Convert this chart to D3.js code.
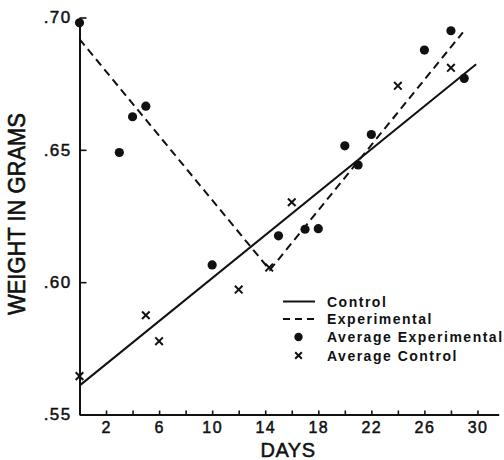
<!DOCTYPE html>
<html>
<head>
<meta charset="utf-8">
<script src="https://cdn.jsdelivr.net/npm/d3@7"></script>
<style>
  body { margin: 0; background: #fff; }
  svg { display: block; background: #fff; }
  text { font-family: "Liberation Sans", Arial, sans-serif; fill: #111; }
</style>
</head>
<body>
<script>
const WIDTH = 504;
const HEIGHT = 460;
const INK = "#111";

// data
const expDays = [0, 3, 4, 5, 10, 15, 17, 18, 20, 21, 22, 26, 28, 29];
const expWeights = [0.698, 0.649, 0.6625, 0.6665, 0.6065, 0.6175, 0.62, 0.6202, 0.6515, 0.6443, 0.6558, 0.6877, 0.695, 0.677];
const ctrlDays = [0, 5, 6, 12, 14.3, 16, 24, 28];
const ctrlWeights = [0.5645, 0.5875, 0.5777, 0.5972, 0.6055, 0.6302, 0.6742, 0.681];

// fitted lines
const ctrlLineDays = [0, 29.9];
const ctrlLineWeights = [0.5609, 0.6823];
const expLineDays = [0, 14.35, 28.9];
const expLineWeights = [0.6918, 0.6046, 0.6944];

const xTicks = d3.range(2, 31, 2);
const xLabels = [2, 6, 10, 14, 18, 22, 26, 30];
const yTicks = [0.55, 0.60, 0.65, 0.70];
const legendLabels = ["Control", "Experimental", "Average Experimental", "Average Control"];

const svg = d3.select('body').append('svg')
  .attr("width", WIDTH)
  .attr("height", HEIGHT);

const xScale = d3.scaleLinear().domain([0, 31.6]).range([79.5, 498.7]);
const yScale = d3.scaleLinear().domain([0.55, 0.70]).range([414.5, 17.5]);

//axes
const setAxis = () => {
  const xAxis = d3.axisBottom(xScale)
    .tickValues(xTicks)
    .tickSizeInner(-4)
    .tickSizeOuter(0)
    .tickPadding(7)
    .tickFormat(d => xLabels.includes(d) ? d : "");

  const yAxis = d3.axisLeft(yScale)
    .tickValues(yTicks)
    .tickSizeInner(-7)
    .tickSizeOuter(0)
    .tickPadding(8)
    .tickFormat(d => d3.format(".2f")(d).replace(/^0/, ""));

  const gx = svg.append("g")
    .attr("transform", "translate(0," + yScale(0.55) + ")")
    .call(xAxis);

  const gy = svg.append("g")
    .attr("transform", "translate(" + xScale(0) + ",0)")
    .call(yAxis);

  [gx, gy].forEach(g => {
    g.select(".domain").attr("stroke", INK).attr("stroke-width", 2);
    g.selectAll(".tick line").attr("stroke", INK).attr("stroke-width", 1.6);
    g.selectAll(".tick text")
      .attr("fill", INK)
      .attr("stroke", INK)
      .attr("stroke-width", 0.5)
      .style("font-size", "16px")
      .style("letter-spacing", "1.4px");
  });
  gy.selectAll(".tick text").attr("x", -8).style("font-size", "17px");
};

//the fitted lines
const renderLines = () => {
  const line = d3.line()
    .x(d => xScale(d[0]))
    .y(d => yScale(d[1]));

  svg.append("path")
    .datum(ctrlLineDays.map((d, i) => [d, ctrlLineWeights[i]]))
    .attr("d", line)
    .attr("fill", "none")
    .attr("stroke", INK)
    .attr("stroke-width", 2);

  svg.append("path")
    .datum(expLineDays.map((d, i) => [d, expLineWeights[i]]))
    .attr("d", line)
    .attr("fill", "none")
    .attr("stroke", INK)
    .attr("stroke-width", 2)
    .attr("stroke-dasharray", "8,5");
};

const crossPath = (cx, cy, s) =>
  "M" + (cx - s) + "," + (cy - s) + "L" + (cx + s) + "," + (cy + s) +
  "M" + (cx - s) + "," + (cy + s) + "L" + (cx + s) + "," + (cy - s);

//the points
const renderPoints = () => {
  svg.selectAll("circle.exp")
    .data(expDays.map((d, i) => [d, expWeights[i]]))
    .enter().append("circle")
    .attr("class", "exp")
    .attr("cx", d => xScale(d[0]))
    .attr("cy", d => yScale(d[1]))
    .attr("r", 4.6)
    .attr("fill", INK);

  svg.selectAll("path.ctrl")
    .data(ctrlDays.map((d, i) => [d, ctrlWeights[i]]))
    .enter().append("path")
    .attr("class", "ctrl")
    .attr("d", d => crossPath(xScale(d[0]), yScale(d[1]), 3.8))
    .attr("stroke", INK)
    .attr("stroke-width", 2)
    .attr("fill", "none");
};

//axis titles
const setTitles = () => {
  svg.append("text")
    .attr("x", 288)
    .attr("y", 457)
    .attr("text-anchor", "middle")
    .attr("stroke", INK)
    .attr("stroke-width", 0.5)
    .style("font-size", "20px")
    .style("letter-spacing", "0.5px")
    .text("DAYS");

  svg.append("text")
    .attr("transform", "translate(25,214) rotate(-90)")
    .attr("text-anchor", "middle")
    .attr("textLength", 202)
    .attr("lengthAdjust", "spacingAndGlyphs")
    .attr("stroke", INK)
    .attr("stroke-width", 0.6)
    .style("font-size", "23px")
    .text("WEIGHT IN GRAMS");
};

//legend
const setLegend = () => {
  const legendY = [301.5, 319, 337, 355.5];
  const g = svg.append("g");

  g.selectAll("text")
    .data(legendLabels)
    .enter().append("text")
    .attr("x", 327)
    .attr("y", (d, i) => legendY[i])
    .attr("dy", "0.36em")
    .style("font-size", "14px")
    .style("font-weight", "bold")
    .style("letter-spacing", "1.5px")
    .text(d => d);

  g.append("line")
    .attr("x1", 283).attr("x2", 315)
    .attr("y1", legendY[0]).attr("y2", legendY[0])
    .attr("stroke", INK).attr("stroke-width", 2);

  g.append("line")
    .attr("x1", 283).attr("x2", 315)
    .attr("y1", legendY[1]).attr("y2", legendY[1])
    .attr("stroke", INK).attr("stroke-width", 2)
    .attr("stroke-dasharray", "7,5");

  g.append("circle")
    .attr("cx", 298.5).attr("cy", legendY[2])
    .attr("r", 4.2).attr("fill", INK);

  g.append("path")
    .attr("d", crossPath(298.5, legendY[3], 3.3))
    .attr("stroke", INK).attr("stroke-width", 2);
};

const rend = () => {
  setAxis();
  renderLines();
  renderPoints();
  setTitles();
  setLegend();
};

rend();
</script>
</body>
</html>
